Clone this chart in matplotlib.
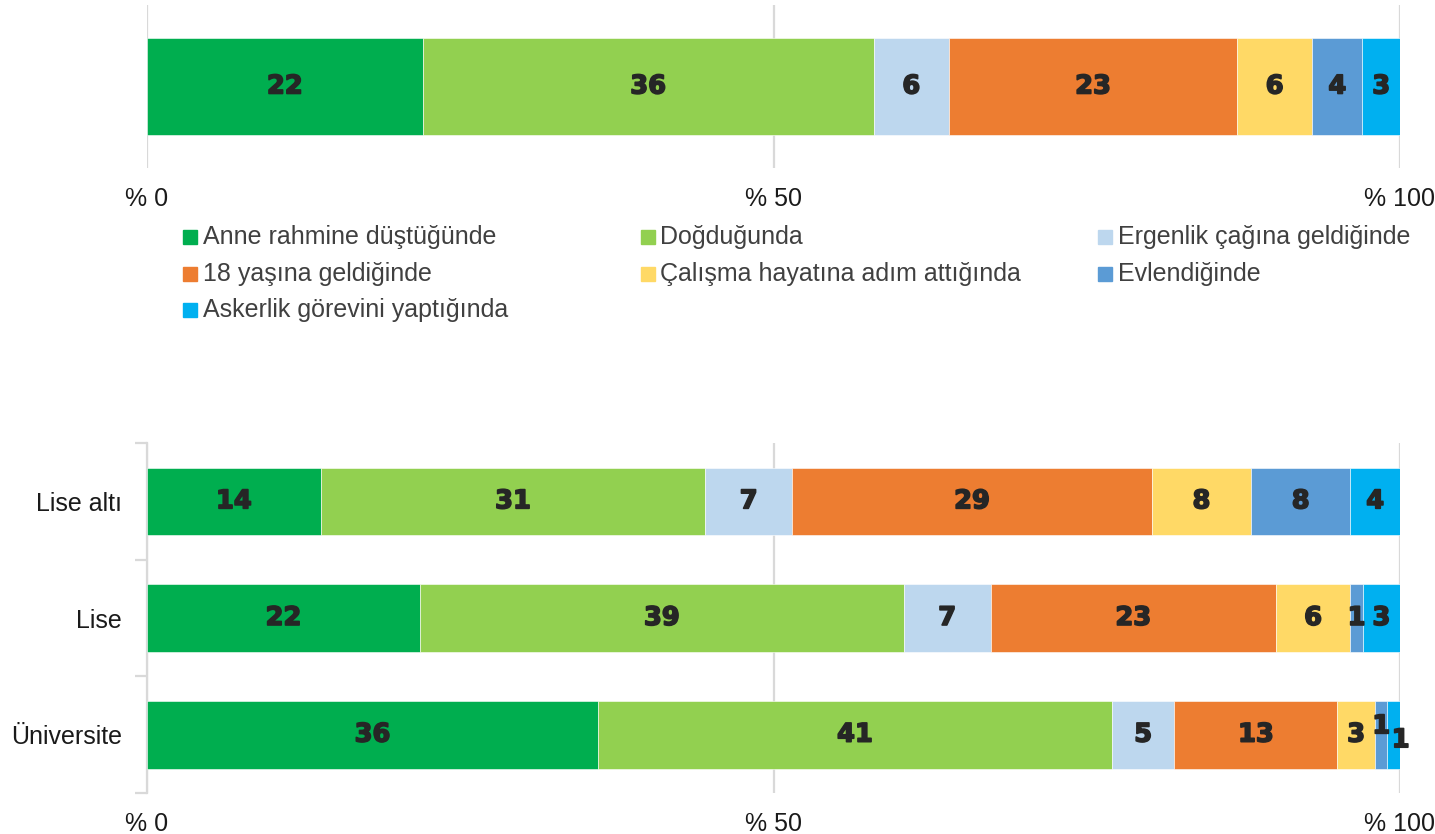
import numpy as np
import matplotlib
matplotlib.use('Agg')

import matplotlib.pyplot as plt
import matplotlib.patheffects as pe
from matplotlib.patches import Rectangle


# data
series_names = [
    'Anne rahmine düştüğünde',
    'Doğduğunda',
    'Ergenlik çağına geldiğinde',
    '18 yaşına geldiğinde',
    'Çalışma hayatına adım attığında',
    'Evlendiğinde',
    'Askerlik görevini yaptığında',
]
colors = ['#00AE4F', '#92D050', '#BDD7EE', '#ED7D31', '#FFD966', '#5B9BD5', '#00B0F0']

total_values = [22, 36, 6, 23, 6, 4, 3]

edu_groups = ['Lise altı', 'Lise', 'Üniversite']
edu_values = [
    [14, 31, 7, 29, 8, 8, 4],
    [22, 39, 7, 23, 6, 1, 3],
    [36, 41, 5, 13, 3, 1, 1],
]

plt.rcParams['font.family'] = ['Liberation Sans', 'DejaVu Sans']

W, H = 1435, 834
fig = plt.figure(figsize=(W / 100, H / 100), dpi=100)

GRID = '#d9d9d9'
LABEL_C = '#262626'
heavy = [pe.withStroke(linewidth=1.2, foreground=LABEL_C)]


def stacked(ax, rows, height):
    rows = np.array(rows, dtype=float)
    shares = rows / rows.sum(axis=1, keepdims=True) * 100
    left = np.zeros(len(rows))
    ypos = np.arange(len(rows))
    for k in range(rows.shape[1]):
        ax.barh(ypos, shares[:, k], left=left, height=height, color=colors[k],
                edgecolor='white', linewidth=0.4, zorder=3)
        for r in range(len(rows)):
            dx, dy = 0, 0
            # hand-moved labels on the thin segments of the last row
            if rows.shape[0] == 3 and r == 2 and k == 5:
                dy = 6
            if rows.shape[0] == 3 and r == 2 and k == 6:
                dx, dy = 5, -4
            ax.annotate('%d' % rows[r, k], (left[r] + shares[r, k] / 2, ypos[r]),
                        xytext=(dx, dy), textcoords='offset points',
                        ha='center', va='center', fontsize=18.5, fontweight='bold',
                        family='DejaVu Sans', color=LABEL_C, zorder=5,
                        path_effects=heavy)
        left += shares[:, k]
    ax.set_xlim(0, 100)
    ax.set_xticks([0, 50, 100])
    ax.set_xticklabels(['% 0', '% 50', '% 100'], fontsize=18, color='#1a1a1a')
    ax.xaxis.grid(True, color=GRID, linewidth=1.6, zorder=0)
    ax.tick_params(axis='x', length=0, pad=14)
    for s in ['top', 'right', 'bottom', 'left']:
        ax.spines[s].set_visible(False)


# top panel
ax1 = fig.add_axes([147 / W, 1 - 168 / H, 1253 / W, 163 / H])
stacked(ax1, [total_values], 0.6)
ax1.set_ylim(0.5, -0.5)
ax1.set_yticks([])

# bottom panel
ax2 = fig.add_axes([147 / W, 1 - 793 / H, 1253 / W, 350 / H])
stacked(ax2, edu_values, 0.58)
ax2.set_ylim(2.5, -0.5)
ax2.set_yticks(range(len(edu_groups)))
ax2.set_yticklabels(edu_groups, fontsize=18, color='#1a1a1a')
ax2.set_yticks([-0.5, 0.5, 1.5, 2.5], minor=True)
ax2.tick_params(axis='y', which='major', length=0, pad=18)
ax2.tick_params(axis='y', which='minor', length=9, color=GRID, width=1.6)
ax2.spines['left'].set_visible(True)
ax2.spines['left'].set_color(GRID)
ax2.spines['left'].set_linewidth(1.6)

# legend, filled row by row
for i, name in enumerate(series_names):
    col, row = i % 3, i // 3
    x = 183 + col * 457.5
    y = 237 + row * 36.5
    fig.patches.append(Rectangle((x / W, 1 - (y + 7) / H), 14 / W, 14 / H,
                                 transform=fig.transFigure, color=colors[i]))
    fig.text((x + 20) / W, 1 - y / H, name, fontsize=18, color='#404040',
             va='center', ha='left')

fig.savefig('out.png', dpi=100)
plt.close()
